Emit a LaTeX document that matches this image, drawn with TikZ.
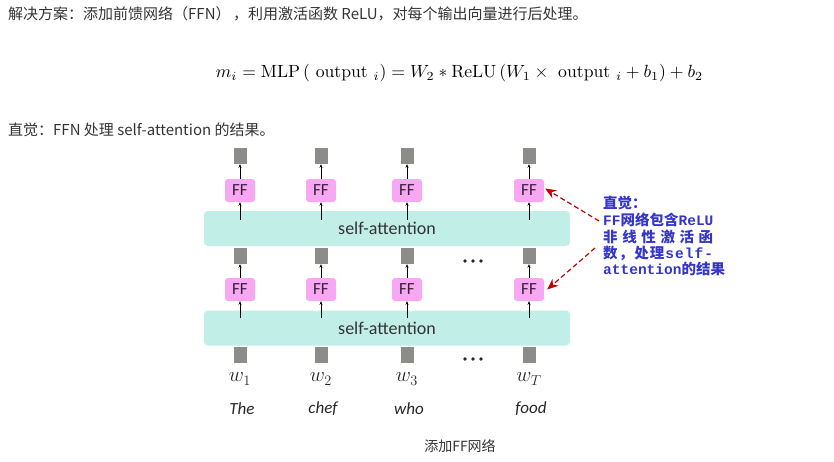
\documentclass[tikz,border=0pt]{standalone}
\usepackage{fontspec}
\usetikzlibrary{arrows.meta}
\newfontfamily\cjk{Noto Sans CJK SC}
\newfontfamily\carl{Carlito}
\newfontfamily\monof{Liberation Mono}
\definecolor{txt}{HTML}{333333}
\definecolor{ffpink}{HTML}{F8A8F2}
\definecolor{fftext}{HTML}{3A1F3A}
\definecolor{attncol}{HTML}{C2EEE8}
\definecolor{veccol}{HTML}{8C8C88}
\definecolor{annot}{HTML}{3535CC}
\definecolor{darkred}{HTML}{C00000}
\begin{document}
\begin{tikzpicture}[x=1pt,y=-1pt,
  vecbox/.style={fill=veccol, minimum width=13pt, minimum height=16pt, inner sep=0pt},
  ffbox/.style={fill=ffpink, rounded corners=3pt, minimum width=30pt, minimum height=23pt, inner sep=0pt, font=\carl\fontsize{17}{17}\selectfont, text=fftext},
  attnbox/.style={fill=attncol, rounded corners=4pt, minimum width=366pt, minimum height=35pt, inner sep=0pt, font=\carl\fontsize{18}{18}\selectfont, text=black!80},
  uparrow/.style={-{Stealth[length=3.5pt,width=3pt]}, line width=0.6pt, black},
  redarrow/.style={darkred, line width=1.2pt, dash pattern=on 5pt off 3pt, -{Stealth[length=11pt,width=9pt]}},
  headtext/.style={anchor=west, inner sep=0pt, text=txt, font=\cjk\fontsize{15}{15}\selectfont},
  annottext/.style={anchor=west, inner sep=0pt, text=annot, font=\fontsize{14.5}{14.5}\selectfont},
  wlabel/.style={inner sep=0pt, text=black!85, font=\fontsize{21}{21}\selectfont},
  wordlabel/.style={inner sep=0pt, text=black!85, font=\carl\itshape\fontsize{17}{17}\selectfont},
]
\useasboundingbox (0,0) rectangle (834,461);

% header texts
\node[headtext] (head1) at (8,14) {解决方案：添加前馈网络（FFN）\,，利用激活函数 ReLU，对每个输出向量进行后处理。};
\node[inner sep=0pt] (formula) at (459.5,73)
  {\resizebox{487pt}{!}{$m_i = \mathrm{MLP}\,(\ \mathrm{output}\ _i) = W_2 * \mathrm{ReLU}\,(W_1 \times\ \mathrm{output}\ _i + b_1) + b_2$}};
\node[headtext] (head2) at (8,130) {直觉：FFN 处理 self-attention 的结果。};

% attention layers
\node[attnbox] (attTop) at (387,228.5) {self-attention};
\node[attnbox] (attBot) at (387,328) {self-attention};

\foreach \x/\i/\s/\w in {240/1/1/The, 321/2/2/chef, 407/3/3/who, 529/4/T/food}{
  \node[vecbox] (vt\i) at (\x,156) {};
  \node[ffbox] (ft\i) at (\x,190.5) {FF};
  \node[vecbox] (vm\i) at (\x,256) {};
  \node[ffbox] (fm\i) at (\x,289.5) {FF};
  \node[vecbox] (vb\i) at (\x,355) {};
  \coordinate (at\i) at (\x,220);
  \coordinate (ab\i) at (\x,318);
  \draw[uparrow] (ft\i.north) -- (vt\i.south);
  \draw[uparrow] (at\i) -- (ft\i.south);
  \draw[uparrow] (fm\i.north) -- (vm\i.south);
  \draw[uparrow] (ab\i) -- (fm\i.south);
  \node[wlabel] (w\i) at (\x,379) {$w_{\s}$};
  \node[wordlabel] (word\i) at (\x+2,409) {\w};
}

% dots
\foreach \y in {261,359}{
  \foreach \d in {465,473,481}{
    \fill[black!85] (\d,\y) circle (1.9pt);
  }
}

% annotation
\node[annottext] (an1) at (603,203) {\cjk\bfseries 直觉：};
\node[annottext] (an2) at (603,220) {\monof\bfseries FF{\cjk 网络包含}ReLU};
\node[annottext] (an3) at (603,237) {\makebox[110pt][s]{\cjk\bfseries 非\hfill 线\hfill 性\hfill 激\hfill 活\hfill 函}};
\node[annottext] (an4) at (603,253) {\makebox[110pt][s]{\cjk\bfseries 数\hfill ，\hfill 处\hfill 理\hfill {\monof s\hfill e\hfill l\hfill f\hfill -}}};
\node[annottext] (an5) at (603,269) {\monof\bfseries attention{\cjk 的结果}};

\coordinate (r1s) at (599,221);
\coordinate (r2s) at (595,248);
\draw[redarrow] (r1s) -- ([xshift=1pt,yshift=2pt]ft4.east);
\draw[redarrow] (r2s) -- ([xshift=3pt]fm4.east);

% caption
\node[inner sep=0pt, text=txt, font=\cjk\fontsize{14}{14}\selectfont] (caption) at (460,446) {添加FF网络};
\end{tikzpicture}
\end{document}
